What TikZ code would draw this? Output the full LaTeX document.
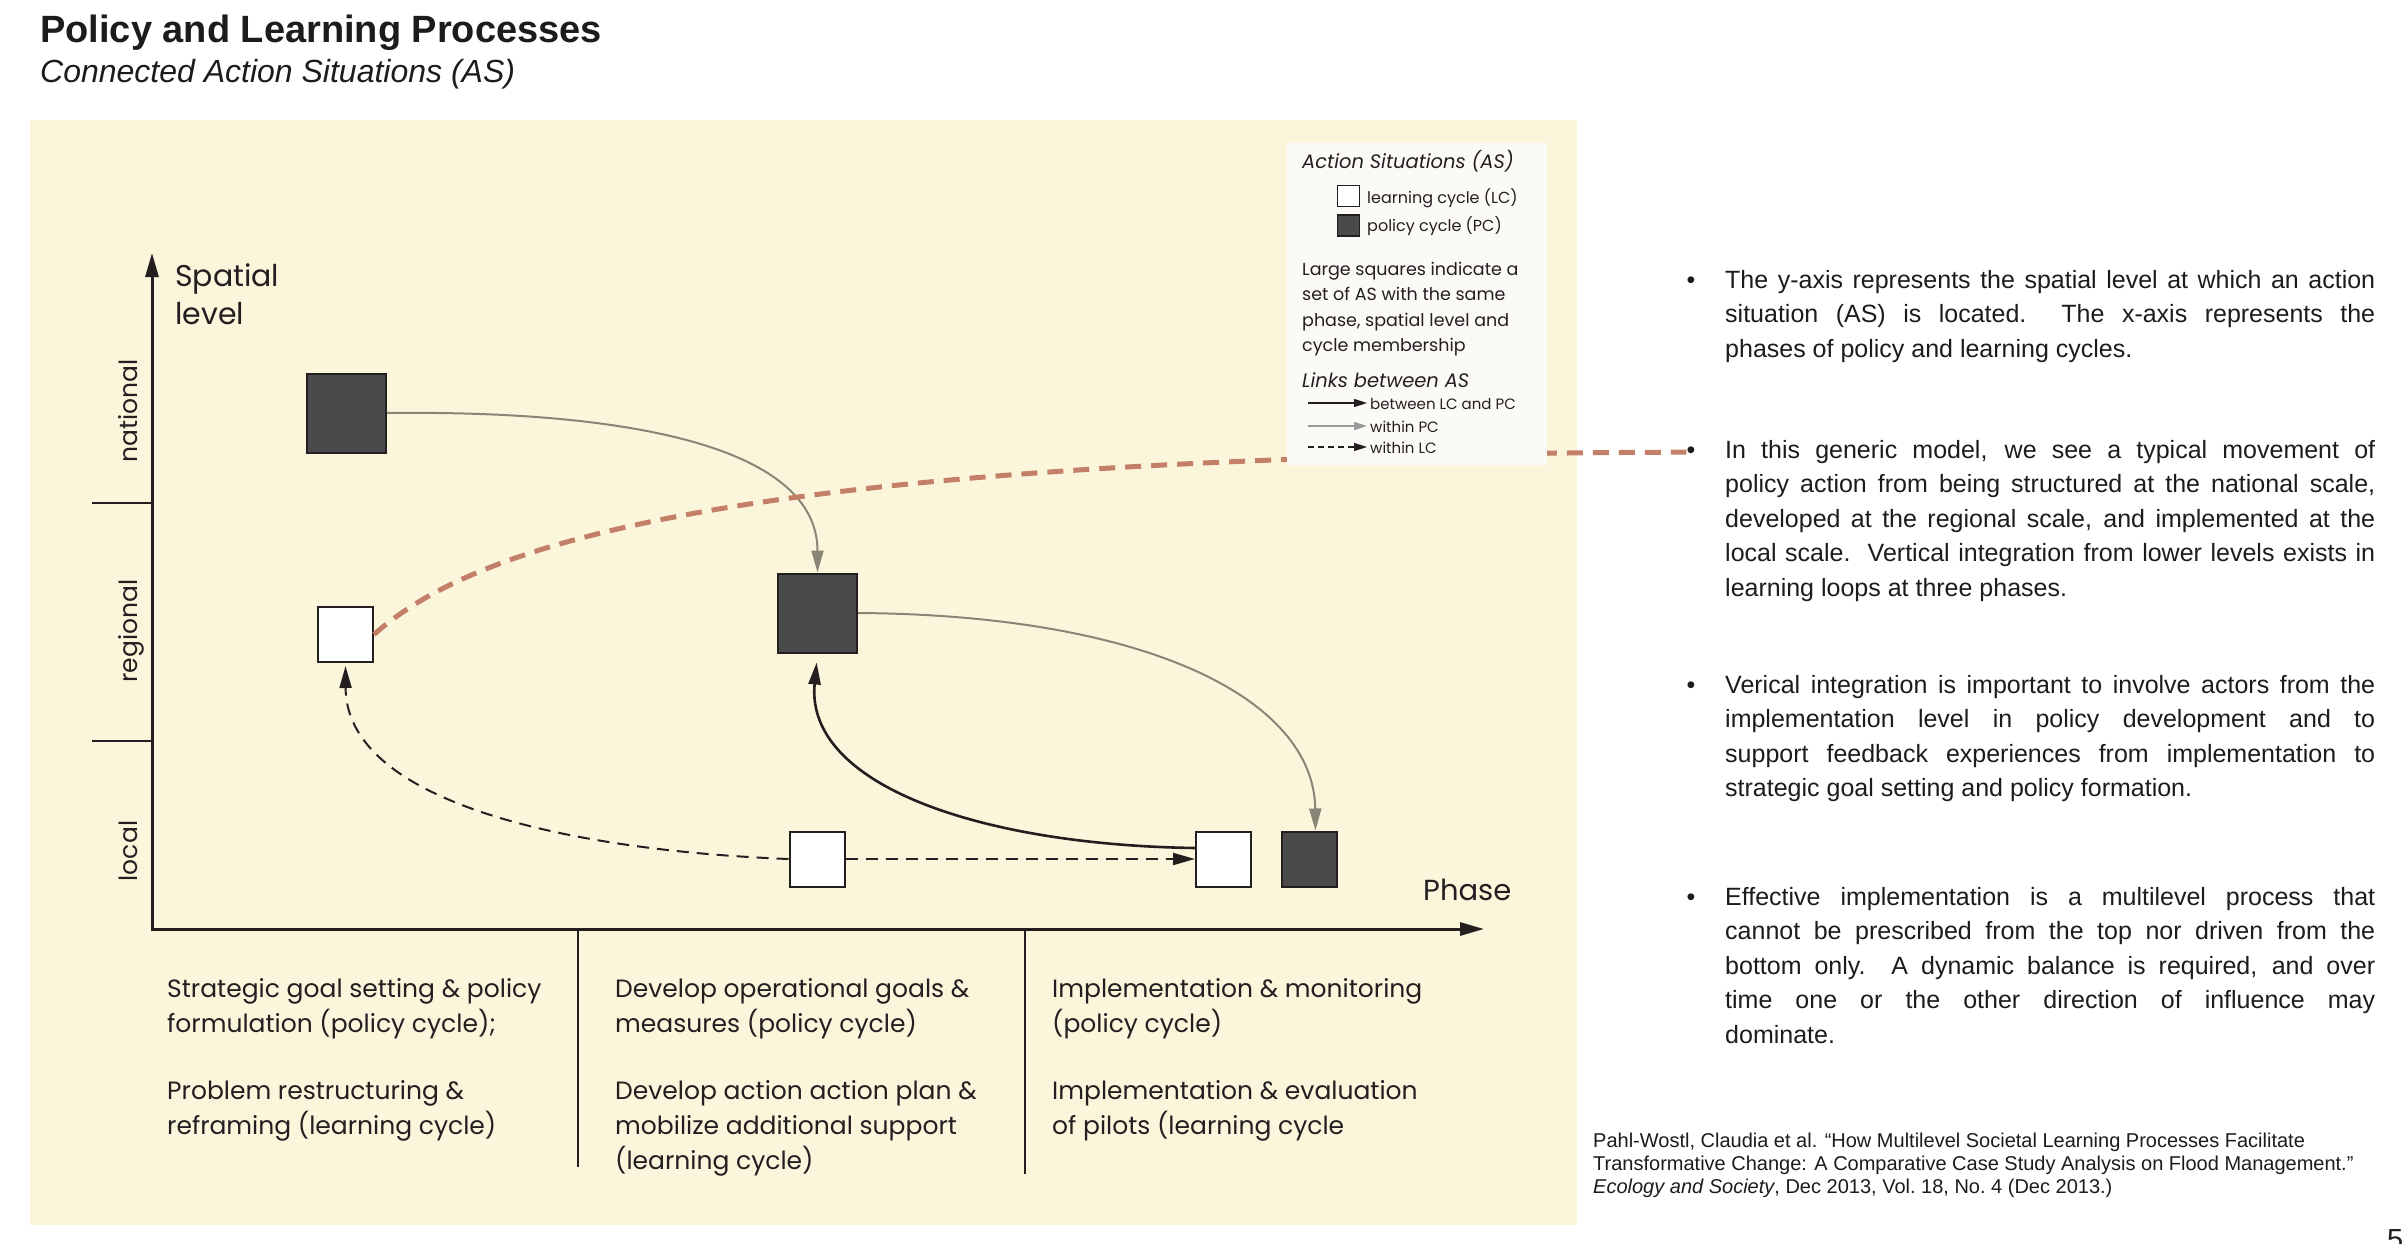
\documentclass[tikz,border=0pt]{standalone}
\usepackage{fontspec}
\setmainfont{Liberation Sans}
\newfontfamily\figfont{Poppins}
\usetikzlibrary{arrows.meta}
\usetikzlibrary{positioning}

\definecolor{panel}{HTML}{FBF5DC}
\definecolor{pcfill}{HTML}{4A4A4A}
\definecolor{pclink}{HTML}{8A8677}
\definecolor{pclinklight}{HTML}{9A9A9A}
\definecolor{trendred}{HTML}{C47F68}
\definecolor{legendbg}{HTML}{FCFAF7}
\definecolor{ink}{HTML}{231F20}
\definecolor{slideink}{HTML}{1C1C1C}

\newcommand\px[2]{\fontsize{#1}{#2}\selectfont}
% one justified line of a bullet point
\newcommand\jline[1]{\hbox to 650pt{\spaceskip=\fontdimen2\font plus 1fil minus .35\fontdimen2\font\relax #1}}

\tikzset{
  % action situation boxes
  as box/.style = {
    draw = ink,
    line width = 2pt,
    rectangle,
    inner sep = 0
  },
  % learning cycle
  lc/.style = {as box, fill = white},
  % policy cycle
  pc/.style = {as box, fill = pcfill},
  big as/.style = {minimum size = 79pt},
  small as/.style = {minimum size = 55pt},
  legend as/.style = {line width = 1.5pt, minimum width = 22pt, minimum height = 21pt}
}
\tikzset{
  link tip/.style = {-{Triangle[length = 22pt, width = 12pt]}},
  small tip/.style = {-{Triangle[length = 13pt, width = 8pt]}},
  % link within policy cycle
  pc link/.style = {draw = pclink, line width = 2pt, link tip},
  % link between learning and policy cycle
  cross link/.style = {draw = ink, line width = 2.6pt, link tip},
  % link within learning cycle
  lc link/.style = {draw = ink, line width = 2pt, dash pattern = on 12pt off 8pt, link tip},
  axes/.style = {
    draw = ink,
    line width = 3pt,
    {Triangle[length = 24pt, width = 13pt]}-{Triangle[length = 24pt, width = 13pt]}
  },
  sep line/.style = {draw = ink, line width = 2pt},
  trend line/.style = {draw = trendred, line width = 5pt, dash pattern = on 16pt off 10pt}
}
\tikzset{
  fig text/.style = {inner sep = 0, text = ink, font = \figfont},
  level label/.style = {fig text, rotate = 90, anchor = base, font = \figfont\px{25}{30}},
  phase text/.style = {fig text, anchor = base west, font = \figfont\px{25}{35}},
  leg title/.style = {fig text, anchor = base west, font = \figfont\itshape\px{19.5}{24}},
  leg text/.style = {fig text, anchor = base west, font = \figfont\px{16}{20}},
  leg small/.style = {fig text, anchor = base west, font = \figfont\px{15}{20}},
  slide text/.style = {inner sep = 0, text = slideink},
  bullet/.style = {slide text, anchor = base, font = \px{25}{34.5}},
  point/.style = {slide text, anchor = base west, font = \px{25}{34.5}}
}

\begin{document}
\begin{tikzpicture}[x = 1pt, y = -1pt]
  \useasboundingbox (0,0) rectangle (2407,1244);
  \fill[white] (0,0) rectangle (2407,1244);

  % heading
  \node[slide text, anchor = base west, font = \bfseries\px{38}{44}] (title) at (40,43)
    {Policy and Learning Processes};
  \node[slide text, anchor = base west, font = \itshape\px{32}{36}] (subtitle) at (40,83)
    {Connected Action Situations (AS)};

  \fill[panel] (30,120) rectangle (1577,1225);

  % axes
  \coordinate (origin) at (152,929);
  \coordinate (ytop) at (152,253);
  \coordinate (xend) at (1484,929);
  \draw[axes] (ytop) -- (origin) -- (xend);
  \coordinate (nat-reg) at (92,503);
  \coordinate (reg-loc) at (92,741);
  \draw[sep line] (nat-reg) -- (nat-reg -| origin);
  \draw[sep line] (reg-loc) -- (reg-loc -| origin);
  \coordinate (sep1) at (578,929);
  \coordinate (sep2) at (1025,929);
  \draw[sep line] (sep1) -- ++(0,238);
  \draw[sep line] (sep2) -- ++(0,245);

  \node[fig text, anchor = base west, font = \figfont\px{30}{38}] (spatial) at (175,286)
    {\vtop{\hbox{Spatial}\hbox{level}}};
  \node[fig text, anchor = base west, font = \figfont\px{29}{34}] (phase) at (1423,900) {Phase};
  \node[level label] (national) at (137,411) {national};
  \node[level label] (regional) at (137,631) {regional};
  \node[level label] (local) at (137,851) {local};

  % phases
  \node[phase text] (phase1) at (167,997)
    {\vtop{\hbox{Strategic goal setting \& policy}\hbox{formulation (policy cycle);}\vskip32pt
     \hbox{Problem restructuring \&}\hbox{reframing (learning cycle)}}};
  \node[phase text] (phase2) at (615,997)
    {\vtop{\hbox{Develop operational goals \&}\hbox{measures (policy cycle)}\vskip32pt
     \hbox{Develop action action plan \&}\hbox{mobilize additional support}\hbox{(learning cycle)}}};
  \node[phase text] (phase3) at (1052,997)
    {\vtop{\hbox{Implementation \& monitoring}\hbox{(policy cycle)}\vskip32pt
     \hbox{Implementation \& evaluation}\hbox{of pilots (learning cycle}}};

  % action situations
  \node[pc, big as] (natpc) at (346.5,413) {};
  \node[lc, small as] (reglc) at (345.5,634.5) {};
  \node[pc, big as] (regpc) at (817.5,613) {};
  \node[lc, small as] (loclca) at (817,859) {};
  \node[lc, small as] (loclcb) at (1223.5,859) {};
  \node[pc, small as, right = 29pt of loclcb] (locpc) {};

  % links
  \draw[pc link] (natpc.east) .. controls (640,410) and (817.5,450) .. (regpc.north);
  \draw[pc link] (regpc.east) .. controls (1150,615) and (1314,700) .. ([xshift = 6pt]locpc.north);
  \draw[cross link, shorten > = 9pt] ([yshift = 11pt]loclcb.west)
    .. controls (980,845) and (805,785) .. (regpc.south);
  \draw[lc link] (loclca) -- (loclcb);
  \draw[lc link, shorten > = 3pt] (loclca.west) .. controls (560,850) and (346,800) .. (reglc.south);

  % right column
  \node[bullet] (dot1) at (1691,288) {•};
  \node[bullet] (dot2) at (1691,458) {•};
  \node[bullet] (dot3) at (1691,693) {•};
  \node[bullet] (dot4) at (1691,905) {•};

  \draw[trend line] (reglc.east) .. controls (480,540) and (750,455) .. (dot2.west);

  % legend
  \node[fill = legendbg, anchor = north west, minimum width = 260pt, minimum height = 322pt, inner sep = 0]
    (legend) at (1287,143) {};
  \node[leg title] (legas) at (1302,168) {Action Situations (AS)};
  \node[lc, legend as] (leglc) at (1348.5,196) {};
  \node[pc, legend as, below = 7pt of leglc] (legpc) {};
  \node[leg text] (leglctext) at (1367,203) {learning cycle (LC)};
  \node[leg text] (legpctext) at (1367,231) {policy cycle (PC)};
  \node[fig text, anchor = base west, font = \figfont\px{17.5}{25.5}] (legnote) at (1302,275)
    {\vtop{\hbox{Large squares indicate a}\hbox{set of AS with the same}\hbox{phase, spatial level and}\hbox{cycle membership}}};
  \node[leg title] (leglinks) at (1302,387) {Links between AS};
  \node[leg small] (legcross) at (1370,409) {between LC and PC};
  \node[leg small] (legpclink) at (1370,432) {within PC};
  \node[leg small] (leglclink) at (1370,453) {within LC};
  \draw[cross link, line width = 1.5pt, small tip]
    ([xshift = -62pt, yshift = 6pt]legcross.base west) -- ([xshift = -3pt, yshift = 6pt]legcross.base west);
  \draw[pc link, draw = pclinklight, line width = 1.5pt, small tip]
    ([xshift = -62pt, yshift = 6pt]legpclink.base west) -- ([xshift = -3pt, yshift = 6pt]legpclink.base west);
  \draw[lc link, line width = 1.5pt, dash pattern = on 6pt off 4pt, small tip]
    ([xshift = -62pt, yshift = 6pt]leglclink.base west) -- ([xshift = -3pt, yshift = 6pt]leglclink.base west);

  \node[point] (point1) at (1725,288)
    {\vtop{\jline{The y-axis represents the spatial level at which an action}
     \jline{situation (AS) is located.\ \ The x-axis represents the}
     \hbox{phases of policy and learning cycles.}}};
  \node[point] (point2) at (1725,458)
    {\vtop{\jline{In this generic model, we see a typical movement of}
     \jline{policy action from being structured at the national scale,}
     \jline{developed at the regional scale, and implemented at the}
     \jline{local scale.\ \ Vertical integration from lower levels exists in}
     \hbox{learning loops at three phases.}}};
  \node[point] (point3) at (1725,693)
    {\vtop{\jline{Verical integration is important to involve actors from the}
     \jline{implementation level in policy development and to}
     \jline{support feedback experiences from implementation to}
     \hbox{strategic goal setting and policy formation.}}};
  \node[point] (point4) at (1725,905)
    {\vtop{\jline{Effective implementation is a multilevel process that}
     \jline{cannot be prescribed from the top nor driven from the}
     \jline{bottom only.\ \ A dynamic balance is required, and over}
     \jline{time one or the other direction of influence may}
     \hbox{dominate.}}};

  % source
  \node[slide text, anchor = base west, font = \px{20}{23}] (source) at (1593,1147)
    {\vtop{\hbox{Pahl-Wostl, Claudia et al. “How Multilevel Societal Learning Processes Facilitate}
     \hbox{Transformative Change: A Comparative Case Study Analysis on Flood Management.”}
     \hbox{\textit{Ecology and Society}, Dec 2013, Vol.~18, No.~4 (Dec 2013.)}}};
  \node[slide text, anchor = north west, font = \px{29}{34}] (pagenum) at (2387,1229) {5};
\end{tikzpicture}
\end{document}
